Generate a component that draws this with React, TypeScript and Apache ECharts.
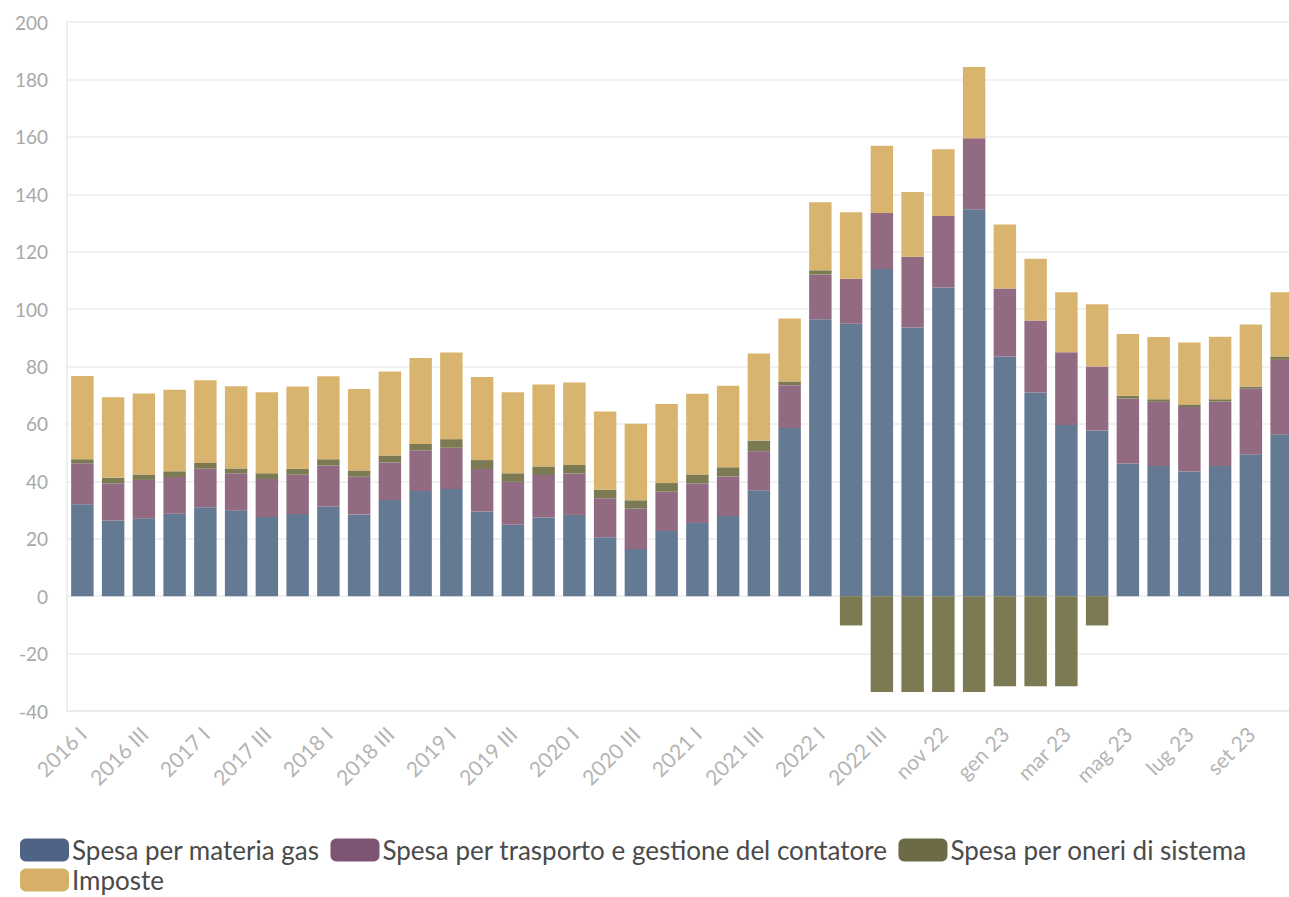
import React, { useEffect, useRef } from "react";
import * as echarts from "echarts";

const categories = [
  "2016 I", "2016 II", "2016 III", "2016 IV",
  "2017 I", "2017 II", "2017 III", "2017 IV",
  "2018 I", "2018 II", "2018 III", "2018 IV",
  "2019 I", "2019 II", "2019 III", "2019 IV",
  "2020 I", "2020 II", "2020 III", "2020 IV",
  "2021 I", "2021 II", "2021 III", "2021 IV",
  "2022 I", "2022 II", "2022 III", "ott 22", "nov 22", "dic 22",
  "gen 23", "feb 23", "mar 23", "apr 23", "mag 23", "giu 23",
  "lug 23", "ago 23", "set 23", "ott 23",
];

const materiaGas = [
  32.0, 26.3, 27.1, 28.7, 31.0, 29.9, 27.6, 28.6, 31.2, 28.4, 33.5, 36.6,
  37.3, 29.5, 24.9, 27.4, 28.3, 20.5, 16.4, 22.7, 25.5, 27.9, 36.9, 58.6,
  96.5, 94.9, 114.0, 93.6, 107.5, 134.8, 83.5, 70.9, 59.6, 57.7, 46.2, 45.3,
  43.4, 45.3, 49.4, 56.4,
];

const trasporto = [
  14.3, 13.0, 13.4, 12.8, 13.4, 12.9, 13.2, 13.7, 14.3, 13.2, 13.1, 14.2,
  14.4, 14.8, 14.9, 14.8, 14.4, 13.6, 14.1, 13.7, 13.8, 13.8, 13.6, 14.9,
  15.5, 15.7, 19.5, 24.6, 24.9, 24.7, 23.7, 25.1, 25.4, 22.3, 22.6, 22.4,
  22.5, 22.5, 22.9, 25.9,
];

const oneri = [
  1.4, 2.0, 1.9, 2.0, 2.0, 1.7, 2.0, 2.1, 2.2, 2.2, 2.4, 2.2,
  3.0, 3.1, 3.0, 3.0, 3.0, 3.0, 2.9, 3.0, 3.1, 3.2, 3.7, 1.3,
  1.5, -10.2, -33.4, -33.4, -33.4, -33.4, -31.4, -31.4, -31.4, -10.2, 1.0, 0.9,
  0.9, 0.8, 0.7, 1.2,
];

const imposte = [
  29.0, 28.0, 28.2, 28.4, 28.8, 28.6, 28.2, 28.6, 28.9, 28.4, 29.3, 30.0,
  30.2, 28.9, 28.2, 28.5, 28.7, 27.2, 26.7, 27.5, 28.1, 28.4, 30.3, 21.9,
  23.7, 23.1, 23.4, 22.6, 23.3, 24.8, 22.3, 21.5, 20.9, 21.7, 21.5, 21.7,
  21.6, 21.8, 21.6, 22.4,
];

const seriesNames = [
  "Spesa per materia gas",
  "Spesa per trasporto e gestione del contatore",
  "Spesa per oneri di sistema",
  "Imposte",
];
const barColors = ["#647a93", "#926a82", "#7c7a53", "#d9b46f"];
const legendColors = ["#4e6385", "#7d5573", "#6c6b46", "#d7b068"];

const FONT = "Lato, 'Noto Sans', sans-serif";

export default function App() {
  const ref = useRef<HTMLDivElement>(null);

  useEffect(() => {
    if (!ref.current) return;
    const chart = echarts.init(ref.current, null, { renderer: "svg" });
    const values = [materiaGas, trasporto, oneri, imposte];
    const legendBase = {
      left: 15,
      itemWidth: 49,
      itemHeight: 23,
      itemGap: 8,
      icon: "roundRect",
      textStyle: {
        fontFamily: FONT,
        fontSize: 26,
        lineHeight: 26,
        color: "#4a4a4a",
        padding: [0, 3, 0, -2],
      },
    };
    const legendItems = seriesNames.map((n, i) => ({ name: n, itemStyle: { color: legendColors[i] } }));
    chart.setOption({
      animation: false,
      textStyle: { fontFamily: FONT },
      grid: { left: 67, right: 13, top: 22, bottom: 186, containLabel: false },
      legend: [
        { ...legendBase, top: 832, data: legendItems.slice(0, 3) },
        { ...legendBase, top: 862, data: legendItems.slice(3) },
      ],
      xAxis: {
        type: "category",
        data: categories,
        position: "bottom",
        axisLine: { onZero: false, lineStyle: { color: "#e8e8e8", width: 1.5 } },
        axisTick: { alignWithLabel: true, interval: 0, length: 11, lineStyle: { color: "#e8e8e8", width: 1.5 } },
        axisLabel: {
          interval: 1,
          rotate: 45,
          fontSize: 21,
          color: "#b4b4b4",
          fontFamily: FONT,
          margin: 19,
        },
      },
      yAxis: {
        type: "value",
        min: -40,
        max: 200,
        interval: 20,
        axisLine: { show: true, lineStyle: { color: "#e8e8e8", width: 1.5 } },
        axisTick: { show: false },
        splitLine: { lineStyle: { color: "#ececec", width: 1.5 } },
        axisLabel: { fontSize: 19, color: "#a8a8a8", fontFamily: FONT, margin: 19 },
      },
      series: seriesNames.map((name, i) => ({
        name,
        type: "bar",
        stack: "total",
        barCategoryGap: "27%",
        itemStyle: { color: barColors[i] },
        data: values[i],
      })),
    });
    return () => chart.dispose();
  }, []);

  return (
    <div style={{ position: "absolute", left: 0, top: 0, width: 1289, height: 897, overflow: "hidden", background: "#fff" }}>
      <div ref={ref} style={{ width: 1310, height: 897 }} />
    </div>
  );
}
